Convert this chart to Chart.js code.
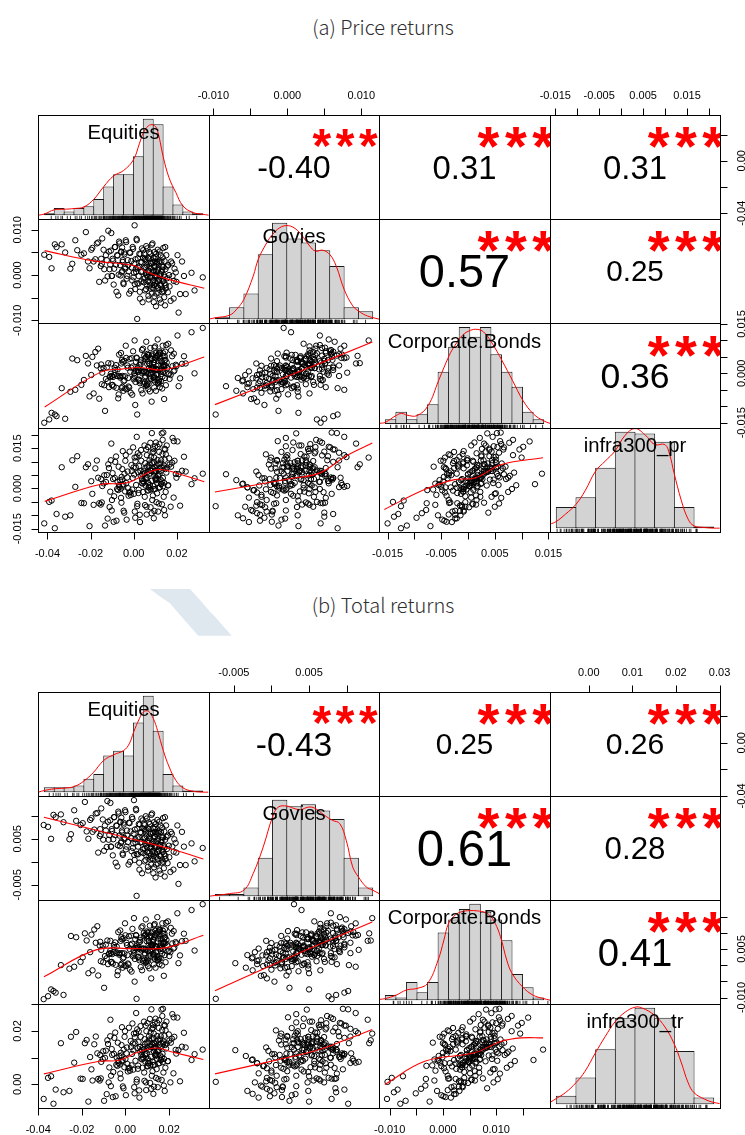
<!DOCTYPE html>
<html>
<head>
<meta charset="utf-8">
<title>Correlation charts</title>
<script src="https://cdn.jsdelivr.net/npm/chart.js@4.4.0/dist/chart.umd.min.js"></script>
<style>
  html, body { margin: 0; padding: 0; background: #fff; }
  body { position: relative; width: 745px; height: 1135px; overflow: hidden; }
  .title { position: absolute; left: 0; width: 766px; text-align: center; line-height: 24px;
           font: 300 20px "Noto Sans CJK KR", "Noto Sans", sans-serif; color: #2e2e2e; }
  .mark { position: absolute; left: 150px; top: 589px; width: 82px; height: 47px; background: #dfe7ef;
          clip-path: polygon(0px 0px, 40px 0px, 50px 11px, 60px 22.7px, 65px 27.7px, 81.7px 46.7px,
                             48.3px 46.7px, 30px 26px, 20px 14.3px, 11.7px 8.7px); }
  canvas { position: absolute; }
</style>
</head>
<body>
<div class="title" style="top:12px">(a) Price returns</div>
<div class="mark"></div>
<div class="title" style="top:590px">(b) Total returns</div>
<script>
// monthly returns, in basis points (1 bp = 0.0001)
const BP = 1e-4;

// ---- (a) price returns ----
const eqPr = [-415,-392,-366,-318,-285,-262,-231,-212,-192,-178,-165,-153,-148,-140,-133,-125,-118,-112,-106,-101,
  -98,-93,-88,-82,-77,-72,-66,-61,-57,-53,-51,-48,-44,-39,-35,-30,-26,-21,-16,-11,
  -7,-3,1,4,7,10,13,16,19,22,25,28,31,34,37,41,44,47,51,53,
  55,57,59,61,63,65,67,69,71,73,75,77,79,81,83,85,87,89,91,92,
  94,96,97,99,101,103,104,106,108,110,112,114,116,118,120,122,124,126,128,130,
  132,134,136,138,141,144,146,148,153,158,164,171,178,186,195,208,224,241,268,320,
  -381,-358,-334,-294,-271,-243,-222,-205,-197,-186,-171,-160,-151,-146,-137,-129,-121,-115,-109,-104,
  -102,-96,-91,-86,-80,-75,-70,-68,-63,-59,-56,-54,-51,-47,-43,-40,-37,-33,-28,-24,
  -19,-14,-9,-5,-1,2,5,8,11,14,17,20,23,26,29,32,35,38,40,43,
  46,49,50,52,54,56,58,60,62,64,66,68,70,72,74,76,78,80,82,84,
  86,88,90,91,93,94,95,96,98,99,100,102,103,105,107,109,111,113,115,117,
  119,121,123,125,127,129,131,133,135,137,139,140,142,143,145,147,149,151,155,160,
  166,173,180,185,189,198,203,215,233,282];
const govPr = [45,40,68,50,25,55,48,30,60,35,72,20,25,56,-12,33,98,13,54,-2,
  36,-21,62,23,44,-45,70,-1,51,9,33,-17,50,14,73,-2,22,-41,49,31,
  -12,58,5,110,-31,14,80,-97,37,-19,19,-37,46,7,28,-60,55,-16,36,-6,
  18,-31,35,0,59,-14,10,-54,37,20,-23,47,-6,25,-41,4,70,-14,28,-29,
  10,-47,37,-2,19,-69,47,-24,29,-14,11,-39,28,-8,52,-22,2,-61,30,12,
  -30,39,-14,18,-49,-4,62,-22,19,-38,0,-57,26,-13,6,-83,30,-42,5,-5,
  15,62,68,14,77,45,95,15,56,30,70,-15,36,81,13,44,-3,52,23,93,
  -2,32,14,62,-37,43,1,74,22,52,6,61,29,-20,46,17,77,-8,33,8,
  50,-35,17,62,-5,26,-20,35,7,77,-18,16,-2,47,-52,29,-14,59,8,38,
  -8,47,16,-34,33,4,64,-21,21,-4,38,-46,6,51,-16,16,-30,26,-3,67,
  -28,7,-11,38,-60,20,-22,51,0,30,-16,40,8,-41,25,-3,56,-28,14,-11,
  31,-54,-1,44,-23,8,-37,18,-10,60,-35,0,-18,31,-67,13,-29,44,-7,22,
  -25,30,-2,-52,14,-15,44,-42,-2,-34];
const corpPr = [-150,-140,-125,-138,45,40,-20,30,50,65,75,15,-33,16,-114,18,31,-11,-1,-36,
  -35,-40,17,25,-8,-76,-8,-9,30,-41,35,-53,38,-46,47,24,-14,-43,5,17,
  -65,67,-13,100,-96,35,48,-125,16,-20,-19,-24,33,40,6,-61,6,5,44,-28,
  48,-38,50,-33,59,37,-1,-32,16,29,-55,77,-3,43,-86,45,58,15,26,-12,
  -9,-15,41,48,14,-53,14,12,52,-21,56,-31,58,-26,67,45,6,-24,24,36,
  -46,84,4,52,-78,52,66,23,33,-3,-1,-5,52,60,26,-39,29,30,125,138,
  -120,-130,-45,-56,-50,-35,53,-70,-5,-61,24,-77,27,2,-36,-17,-24,-42,-9,30,
  -8,-11,-5,10,-44,12,-64,57,-13,62,-45,41,-8,-24,-21,-9,84,-48,17,-40,
  44,-59,46,21,-18,0,-8,-26,7,46,8,4,10,25,-30,27,-51,71,0,75,
  -32,54,6,-12,-8,3,96,-36,29,-28,55,-48,56,30,-9,10,2,-16,16,54,
  16,13,18,33,-21,34,-43,78,8,82,-26,61,12,-5,-2,10,103,-29,37,-21,
  62,-42,63,37,-2,16,9,-10,24,61,23,20,25,40,-14,41,-36,86,16,90,
  -17,70,22,6,9,22,115,-15,52,0];
const infraPr = [-130,-50,-148,-105,105,120,-55,90,-20,75,40,-60,-52,19,-138,50,90,-69,105,-43,
  57,-124,39,119,-2,-6,5,-1,-53,72,11,16,-90,103,20,41,1,-15,-14,87,
  -4,153,-20,115,-109,78,117,-66,131,-17,83,-98,65,143,21,18,28,22,-31,94,
  33,38,-68,124,41,62,21,4,4,105,13,170,-4,65,-92,94,133,-26,147,-3,
  98,-84,79,157,35,31,41,35,-18,106,46,50,-56,136,53,74,33,16,17,205,
  26,181,8,78,-80,107,145,-13,160,11,112,-68,96,176,54,53,66,63,16,55,
  -45,-95,79,-100,6,-54,79,-140,27,-61,104,-55,35,9,49,24,-112,76,-12,167,
  -82,35,-29,99,-120,25,81,13,31,-35,43,33,139,-83,55,-11,124,-116,63,-27,
  137,-24,65,39,78,52,-86,102,13,192,-57,60,-5,123,-125,48,103,35,53,-13,
  64,55,160,-62,75,10,145,-97,82,-8,154,-7,82,55,93,67,-70,118,28,206,
  -43,74,9,137,-111,60,115,47,65,-2,75,67,171,-51,86,21,155,-86,93,3,
  165,4,93,66,105,78,-59,128,39,208,-31,85,20,148,-100,72,127,59,78,12,
  89,81,188,-34,103,40,175,-64,118,38];

// ---- (b) total returns ----
const eqTr = [-375,-355,-330,-284,-250,-226,-196,-178,-156,-143,-129,-118,-113,-104,-98,-90,-83,-77,-70,-66,
  -63,-58,-53,-47,-42,-37,-31,-26,-22,-18,-16,-13,-9,-4,0,5,9,14,19,24,
  28,32,36,39,42,45,48,51,54,57,60,63,66,69,72,76,79,82,86,88,
  90,92,94,96,98,100,102,104,106,108,110,112,114,116,118,120,122,124,126,127,
  129,131,132,134,136,138,139,141,143,145,147,149,151,153,155,157,159,161,163,165,
  167,169,171,173,176,179,181,183,188,193,199,206,213,221,230,243,259,276,303,354,
  -341,-320,-296,-257,-235,-206,-186,-170,-162,-151,-136,-125,-116,-111,-102,-94,-86,-80,-74,-69,
  -67,-61,-56,-51,-45,-40,-35,-33,-28,-24,-21,-19,-16,-12,-8,-5,-2,2,7,11,
  16,21,26,30,34,37,40,43,46,49,52,55,58,61,64,67,70,73,75,78,
  81,84,85,87,89,91,93,95,97,99,101,103,105,107,109,111,113,115,117,119,
  121,123,125,126,128,129,130,131,133,134,135,137,138,140,142,144,146,148,150,152,
  154,156,158,160,162,164,166,168,170,172,174,175,177,178,180,182,184,186,190,195,
  201,208,215,220,224,233,238,250,268,317];
const govTr = [80,76,102,86,60,89,84,66,95,70,106,56,60,92,24,68,132,48,90,33,
  71,14,97,58,79,-10,105,34,86,44,68,18,85,49,108,33,57,-6,84,66,
  23,93,40,134,4,49,115,-74,72,16,54,-2,81,42,63,-25,90,19,71,29,
  53,4,70,35,94,21,45,-19,72,55,12,82,29,60,-6,39,105,21,63,6,
  45,-12,72,33,54,-34,82,11,64,21,46,-4,63,27,87,13,37,-26,65,47,
  5,74,21,53,-14,31,97,13,54,-3,35,-22,61,22,41,-48,65,-7,40,30,
  50,97,103,49,112,80,130,50,91,65,105,20,71,116,48,79,32,87,58,128,
  33,67,49,97,-2,78,36,109,57,87,41,96,64,15,81,52,112,27,68,43,
  85,0,52,97,30,61,15,70,42,112,17,51,33,82,-17,64,21,94,43,73,
  27,82,51,1,68,39,99,14,56,31,73,-11,41,86,19,51,5,61,32,102,
  7,42,24,73,-25,55,13,86,35,65,19,75,43,-6,60,32,91,7,49,24,
  66,-19,34,79,12,43,-2,53,25,95,0,35,17,66,-32,48,6,79,28,57,
  10,65,33,-17,49,20,79,-7,33,1];
const corpTr = [-105,-96,-80,-92,90,86,24,76,94,110,120,60,12,60,-70,63,76,34,44,9,
  10,5,62,70,37,-31,37,36,75,4,80,-8,83,-1,92,69,31,2,50,62,
  -20,112,32,145,-51,80,93,-104,61,25,26,21,78,85,51,-16,51,50,89,17,
  93,7,95,12,104,82,44,13,61,74,-10,122,42,88,-41,90,103,60,71,33,
  36,30,86,93,59,-8,59,57,97,24,101,14,103,19,112,90,51,21,69,81,
  -1,129,49,97,-33,97,111,68,78,42,44,40,97,105,71,6,74,75,170,188,
  -75,-85,0,-11,-5,10,98,-25,40,-16,69,-32,72,47,9,28,21,3,36,75,
  37,34,40,55,1,57,-19,102,32,107,0,86,37,21,24,36,129,-3,62,5,
  89,-14,91,66,27,45,37,19,52,91,53,49,55,70,15,72,-6,116,45,120,
  13,99,51,33,37,48,141,9,74,17,100,-3,101,75,36,55,47,29,61,99,
  61,58,63,78,24,79,2,123,53,127,19,106,57,40,43,55,148,16,82,24,
  107,3,108,82,43,61,54,35,69,106,68,65,70,85,31,86,9,131,61,135,
  28,115,67,51,54,67,160,30,97,45];
const infraTr = [-55,24,-73,-30,178,196,20,166,56,150,116,14,22,95,-62,126,165,7,180,32,
  132,-48,114,194,73,69,80,74,22,147,86,91,-15,178,95,116,76,60,61,162,
  71,228,55,190,-34,153,192,9,206,58,158,-23,140,218,96,93,103,97,44,169,
  108,113,7,199,116,137,96,79,79,180,88,245,71,140,-17,169,208,49,222,72,
  173,-9,154,232,110,106,116,110,57,181,121,125,19,211,128,149,108,91,92,280,
  101,256,83,153,-5,182,220,62,235,86,187,7,171,251,129,128,141,138,91,130,
  30,-20,154,-25,81,21,154,-65,102,14,179,20,110,84,124,99,-37,151,63,242,
  -7,110,46,174,-45,100,156,88,106,40,118,108,214,-8,130,64,199,-41,138,48,
  212,51,140,114,153,127,-11,177,88,267,18,135,70,198,-50,123,178,110,128,62,
  139,130,235,13,150,85,220,-22,157,67,229,68,157,130,168,142,5,193,103,281,
  32,149,84,212,-36,135,190,122,140,73,150,142,246,24,161,96,230,-11,168,78,
  240,79,168,141,180,153,16,203,114,283,44,160,95,223,-25,147,202,134,153,87,
  164,156,263,41,178,115,250,11,193,113];

const namesPr = ['Equities', 'Govies', 'Corporate.Bonds', 'infra300_pr'];
const namesTr = ['Equities', 'Govies', 'Corporate.Bonds', 'infra300_tr'];

// upper panels, order (1,2) (1,3) (1,4) (2,3) (2,4) (3,4)
const corrPr = ['-0.40', '0.31', '0.31', '0.57', '0.25', '0.36'];
const corrTr = ['-0.43', '0.25', '0.26', '0.61', '0.28', '0.41'];
const starsPr = ['***', '***', '***', '***', '***', '***'];
const starsTr = ['***', '***', '***', '***', '***', '***'];

// axis ranges per variable
const rangePr = [[-0.0444, 0.0349], [-0.0106, 0.0124], [-0.0166, 0.0153], [-0.0162, 0.0225]];
const rangeTr = [[-0.0401, 0.0383], [-0.0083, 0.0143], [-0.0120, 0.0201], [-0.0089, 0.0301]];

// outer axis ticks, labels ('' = tick only)
const ticksPr = [
  [-0.04, -0.02, 0, 0.02],
  [-0.01, -0.005, 0, 0.005, 0.01],
  [-0.015, -0.01, -0.005, 0, 0.005, 0.01, 0.015],
  [-0.015, -0.01, -0.005, 0, 0.005, 0.01, 0.015, 0.02]
];
const colLabelsPr = [
  ['-0.04', '-0.02', '0.00', '0.02'],
  ['-0.010', '', '0.000', '', '0.010'],
  ['-0.015', '', '-0.005', '', '0.005', '', '0.015'],
  ['-0.015', '', '-0.005', '', '0.005', '', '0.015', '']
];
const rowLabelsPr = [
  ['-0.04', '', '0.00', ''],
  ['-0.010', '', '0.000', '', '0.010'],
  ['-0.015', '', '', '0.000', '', '', '0.015'],
  ['-0.015', '', '', '0.000', '', '', '0.015', '']
];
const ticksTr = [
  [-0.04, -0.02, 0, 0.02],
  [-0.005, 0, 0.005, 0.01],
  [-0.01, -0.005, 0, 0.005, 0.01, 0.015],
  [0, 0.01, 0.02, 0.03]
];
const colLabelsTr = [
  ['-0.04', '-0.02', '0.00', '0.02'],
  ['-0.005', '', '0.005', ''],
  ['-0.010', '', '0.000', '', '0.010', ''],
  ['0.00', '0.01', '0.02', '0.03']
];
const rowLabelsTr = [
  ['-0.04', '', '0.00', ''],
  ['-0.005', '', '0.005', ''],
  ['-0.010', '', '', '0.005', '', ''],
  ['0.00', '', '0.02', '']
];

// histograms on the diagonal: first break, bin width, counts
const histStartPr = [-0.045, -0.010, -0.016, -0.015];
const histStepPr = [0.005, 0.002, 0.002, 0.005];
const histCountsPr = [
  [1, 4, 2, 4, 5, 9, 16, 23, 23, 33, 54, 51, 16, 6, 2, 1],
  [1, 6, 13, 33, 49, 41, 39, 35, 27, 6, 4],
  [2, 5, 2, 4, 8, 21, 31, 39, 35, 39, 28, 21, 15, 5, 2],
  [13, 19, 37, 59, 58, 53, 13, 1]
];
const histStartTr = [-0.040, -0.008, -0.012, -0.010];
const histStepTr = [0.005, 0.002, 0.002, 0.005];
const histCountsTr = [
  [3, 3, 3, 4, 8, 11, 22, 25, 22, 42, 58, 37, 11, 4, 1, 1],
  [1, 1, 4, 18, 45, 42, 43, 40, 36, 18, 4],
  [2, 1, 7, 3, 7, 26, 31, 35, 37, 34, 31, 23, 10, 5, 1],
  [5, 16, 33, 52, 58, 52, 32, 4]
];

// density curves (same units as the counts)
const densXPr = [
  [-0.048,-0.045,-0.040,-0.035,-0.030,-0.025,-0.020,-0.015,-0.010,-0.005,0.000,0.003,0.005,0.0075,0.010,0.012,0.015,0.018,0.0215,0.025,0.030,0.035,0.038],
  [-0.0109,-0.010,-0.008,-0.007,-0.006,-0.0047,-0.004,-0.0028,-0.002,-0.001,0.0,0.001,0.002,0.0032,0.004,0.005,0.006,0.0069,0.008,0.0092,0.010,0.011,0.012,0.0129],
  [-0.0171,-0.016,-0.014,-0.0129,-0.0119,-0.010,-0.0079,-0.0059,-0.0039,-0.0028,-0.0014,0.0001,0.0014,0.0026,0.0041,0.0061,0.0081,0.0101,0.0121,0.014,0.0152],
  [-0.0166,-0.015,-0.0127,-0.010,-0.0077,-0.005,-0.0026,-0.0001,0.0025,0.005,0.0075,0.010,0.0126,0.0138,0.0149,0.0168,0.0185,0.020,0.0227,0.025,0.0265]
];
const densYPr = [
  [0,0.6,3,3.3,3.7,4.6,8.9,16,22,25,31,40,46,50,50.6,48,33,21,12.6,5.2,1.5,0.5,0],
  [0,0.7,2,5.1,10.1,21.9,30.4,38.9,43.1,46.5,47.6,46.5,43.1,37.2,34.6,35.1,32.9,27,15.2,6.8,4.2,2,0.8,0],
  [0.3,0.7,3.4,4.3,3.6,3.4,7.4,17.5,27.5,31.6,35.6,37.6,38,37,32.9,25.5,17.5,9.4,4,1.3,0.3],
  [2.4,4.1,8.5,14.6,22.8,35,41,47.2,56.9,61,57.3,51.2,51.2,45.1,34,16.7,5.5,1.4,0.4,0,0]
];
const densXTr = [
  [-0.043,-0.040,-0.035,-0.030,-0.0249,-0.0201,-0.0151,-0.010,-0.005,0.0001,0.0029,0.0051,0.008,0.010,0.0125,0.0151,0.0172,0.0201,0.0231,0.0265,0.030,0.0349,0.040,0.0428],
  [-0.0088,-0.006,-0.004,-0.0027,-0.0013,0.0,0.0008,0.002,0.0029,0.0039,0.005,0.0059,0.0073,0.0084,0.0094,0.0103,0.0112,0.012,0.0131,0.014,0.0149],
  [-0.0131,-0.012,-0.010,-0.008,-0.006,-0.004,-0.002,-0.0009,0.0,0.0013,0.0025,0.004,0.0054,0.0069,0.008,0.0091,0.010,0.011,0.012,0.014,0.016,0.018,0.0192],
  [-0.0116,-0.010,-0.0077,-0.005,-0.0027,-0.0001,0.0024,0.0049,0.0075,0.010,0.0117,0.015,0.0176,0.0199,0.0218,0.0235,0.025,0.0277,0.030,0.0315]
];
const densYTr = [
  [0,1,2,2.4,3.4,6.6,12,19.1,22.5,25.1,29.1,36.1,44.2,48.2,48.8,44.2,37.1,25.1,15.1,7,2.6,0.6,0,0],
  [0,1.2,2.8,10.6,23,37,41.6,42.1,41.1,40.4,41.6,41.1,37.7,35.4,33.9,26.1,13.7,9,4.3,2.8,1.2],
  [0.3,0.6,1.9,3.9,4.5,6.4,15.4,23.1,29.6,32.8,34,34.4,34.3,33.7,32.1,28.3,23.1,15.4,10.3,5.1,1.9,0.6,0],
  [1,3.4,6.9,12.9,19.8,30.7,40.6,49.5,55.4,58.4,58,53.5,46.5,36.6,24.8,12.9,6.9,3,1,0.4]
];

// smoothed (lowess) lines of the lower panels, key = row + col
const smoothPr = {
  '10': [[-0.0413, -0.0194, 0.0, 0.0063, 0.0156, 0.0327], [0.0054, 0.0032, 0.0021, 0.0006, -0.0009, -0.0029]],
  '20': [[-0.0413, -0.0156, -0.0055, 0.0031, 0.014, 0.0327], [-0.0102, 0.0003, 0.0013, 0.0018, 0.0011, 0.005]],
  '21': [[-0.0098, 0.0008, 0.0115], [-0.0095, -0.0002, 0.0095]],
  '30': [[-0.0413, -0.0156, -0.0031, 0.0109, 0.0218, 0.0327], [-0.0048, 0.0015, 0.0021, 0.007, 0.0052, 0.0025]],
  '31': [[-0.0098, 0.0003, 0.0044, 0.0079, 0.0115], [-0.0013, 0.0036, 0.0058, 0.012, 0.0169]],
  '32': [[-0.0156, -0.0081, -0.0025, 0.0013, 0.0063, 0.014], [-0.0078, -0.0004, 0.0033, 0.0039, 0.0089, 0.0114]]
};
const smoothTr = {
  '10': [[-0.0374, 0.0034, 0.0221, 0.0357], [0.0097, 0.0049, 0.0026, 0.0006]],
  '20': [[-0.0374, -0.0135, 0.0034, 0.0188, 0.0357], [-0.0036, 0.0047, 0.0051, 0.0054, 0.0092]],
  '21': [[-0.0075, 0.0029, 0.0134], [-0.0079, 0.0029, 0.0133]],
  '30': [[-0.0374, -0.012, -0.0028, 0.005, 0.0142, 0.0218, 0.0357], [0.0039, 0.0086, 0.009, 0.0118, 0.0136, 0.012, 0.0093]],
  '31': [[-0.0075, 0.0029, 0.0064, 0.0099, 0.0134], [0.0039, 0.0105, 0.013, 0.0167, 0.0205]],
  '32': [[-0.0109, -0.0034, 0.0059, 0.011, 0.0147, 0.0188], [-0.0001, 0.0086, 0.0118, 0.0161, 0.0174, 0.0174]]
};

// ---- layout ----
const COLS = [38, 209, 379, 550, 720];
const ROWS_PR = [115, 219, 323, 428, 532];
const ROWS_TR = [692, 796, 900, 1004, 1108];
const CELL_W = 170.5;
const FONT = '"Liberation Sans", Arial, Helvetica, sans-serif';
const TICK = 6.5;

function setFont(ctx, px, weight) { ctx.font = (weight || '') + ' ' + px + 'px ' + FONT; }
function width1(ctx, txt) { setFont(ctx, 100); return ctx.measureText(txt).width / 100; }
function fillCentered(ctx, txt, cx, cy) {
  const m = ctx.measureText(txt);
  ctx.fillText(txt, cx, cy + (m.actualBoundingBoxAscent - m.actualBoundingBoxDescent) / 2);
}
const snap = v => Math.round(v) + 0.5;

function hAxis(ctx, scale, spec, y0, dir, off) {
  ctx.beginPath();
  spec.ticks.forEach(v => {
    const x = snap(scale.getPixelForValue(v));
    ctx.moveTo(x, y0); ctx.lineTo(x, y0 + dir * TICK);
  });
  ctx.stroke();
  spec.ticks.forEach((v, i) => {
    if (spec.labels[i]) fillCentered(ctx, spec.labels[i], scale.getPixelForValue(v), y0 + dir * off);
  });
}
function vAxis(ctx, scale, spec, x0, dir, off) {
  ctx.beginPath();
  spec.ticks.forEach(v => {
    const y = snap(scale.getPixelForValue(v));
    ctx.moveTo(x0, y); ctx.lineTo(x0 + dir * TICK, y);
  });
  ctx.stroke();
  spec.ticks.forEach((v, i) => {
    if (!spec.labels[i]) return;
    ctx.save();
    ctx.translate(x0 + dir * off, scale.getPixelForValue(v));
    ctx.rotate(-Math.PI / 2);
    fillCentered(ctx, spec.labels[i], 0, 0);
    ctx.restore();
  });
}

const rPanel = {
  id: 'rPanel',
  afterDatasetsDraw(chart) {
    const s = chart.canvas._spec;
    const ctx = chart.ctx, a = chart.chartArea;
    const w = a.right - a.left, h = a.bottom - a.top;
    ctx.save();
    ctx.beginPath(); ctx.rect(a.left, a.top, w, h); ctx.clip();
    ctx.textAlign = 'center'; ctx.textBaseline = 'alphabetic';
    if (s.rug) {
      const xs = chart.scales.x;
      ctx.strokeStyle = '#000'; ctx.lineWidth = 0.8;
      ctx.beginPath();
      s.rug.forEach(v => {
        const x = xs.getPixelForValue(v);
        ctx.moveTo(x, a.bottom); ctx.lineTo(x, a.bottom - 3.2);
      });
      ctx.stroke();
    }
    if (s.label) {
      setFont(ctx, 0.9 * CELL_W / width1(ctx, s.widest));
      ctx.fillStyle = '#000';
      const cap = ctx.measureText('E').actualBoundingBoxAscent;
      ctx.fillText(s.label, a.left + w / 2, a.top + h / 6 + cap / 2);
    }
    if (s.corr) {
      const base = 0.8 * CELL_W / width1(ctx, s.corr);
      const r = Math.abs(parseFloat(s.corr));
      setFont(ctx, base * (r + 0.3) / 1.3);
      ctx.fillStyle = '#000';
      fillCentered(ctx, s.corr, a.left + w / 2, a.top + h / 2);
      // significance stars: spacing of the full-size font, heavier and slightly smaller glyphs
      setFont(ctx, base);
      const adv = ctx.measureText('*').width;
      setFont(ctx, base * 0.8, 'bold');
      ctx.fillStyle = '#ff0000';
      const n = s.stars.length;
      for (let k = 0; k < n; k++) {
        fillCentered(ctx, s.stars[k], a.left + 0.8 * w + (k - (n - 1) / 2) * adv, a.top + 0.22 * h);
      }
    }
    ctx.restore();
  },
  afterDraw(chart) {
    const s = chart.canvas._spec;
    const ctx = chart.ctx, a = chart.chartArea;
    ctx.save();
    ctx.strokeStyle = '#000'; ctx.lineWidth = 1;
    ctx.strokeRect(a.left + 0.5, a.top + 0.5, a.right - a.left, a.bottom - a.top);
    setFont(ctx, 11);
    ctx.fillStyle = '#000'; ctx.textAlign = 'center'; ctx.textBaseline = 'alphabetic';
    const ax = s.axes;
    if (ax.top) hAxis(ctx, chart.scales.x, ax.top, a.top, -1, 20);
    if (ax.bottom) hAxis(ctx, chart.scales.x, ax.bottom, a.bottom + 1, 1, 19.5);
    if (ax.left) vAxis(ctx, chart.scales.y, ax.left, a.left, -1, 21);
    if (ax.right) vAxis(ctx, chart.scales.y, ax.right, a.right + 1, 1, 20);
    ctx.restore();
  }
};
Chart.register(rPanel);

const noTicks = sc => { sc.ticks = []; };

function buildMatrix(m) {
  const pairIdx = [[-1, 0, 1, 2], [-1, -1, 3, 4], [-1, -1, -1, 5]];
  const probe = document.createElement('canvas').getContext('2d');
  const widest = m.names.reduce((b, n) => width1(probe, n) > width1(probe, b) ? n : b);
  for (let r = 0; r < 4; r++) {
    for (let c = 0; c < 4; c++) {
      const left = COLS[c], top = m.rows[r];
      const w = COLS[c + 1] - left, h = m.rows[r + 1] - top;
      const axes = {};
      if (r === 0 && c % 2 === 1) axes.top = { ticks: m.ticks[c], labels: m.colLabels[c] };
      if (r === 3 && c % 2 === 0) axes.bottom = { ticks: m.ticks[c], labels: m.colLabels[c] };
      if (c === 0 && r % 2 === 1) axes.left = { ticks: m.ticks[r], labels: m.rowLabels[r] };
      if (c === 3 && r % 2 === 0) axes.right = { ticks: m.ticks[r], labels: m.rowLabels[r] };
      const any = Object.keys(axes).length ? 24 : 0;
      const pad = {
        left: axes.left ? 40 : any, right: (axes.right ? 40 : any) + 1,
        top: axes.top ? 36 : any, bottom: (axes.bottom ? 36 : any) + 1
      };
      const cv = document.createElement('canvas');
      cv.width = pad.left + w + pad.right;
      cv.height = pad.top + h + pad.bottom;
      cv.style.left = (left - pad.left) + 'px';
      cv.style.top = (top - pad.top) + 'px';
      document.body.appendChild(cv);

      const spec = { axes };
      let type = 'scatter', datasets = [], xr = m.ranges[c], yr = m.ranges[r];
      if (r === c) {
        const start = m.histStart[c], step = m.histStep[c], counts = m.histCounts[c];
        const span = step * counts.length, peak = Math.max(...counts);
        xr = [start - 0.04 * span, start + 1.04 * span];
        yr = [-0.04 * peak, 1.04 * peak];
        // widen each bar by one pixel so neighbouring borders fall on the same line
        const barPx = w / (1.08 * counts.length);
        type = 'bar';
        datasets = [
          { type: 'line', data: m.densX[c].map((x, k) => ({ x, y: m.densY[c][k] })),
            borderColor: '#ff0000', borderWidth: 1, pointRadius: 0, tension: 0.4, order: 0, clip: 0 },
          { type: 'bar', data: counts.map((n, k) => ({ x: start + (k + 0.5) * step, y: n })),
            backgroundColor: '#d3d3d3', borderColor: '#1a1a1a', borderWidth: 1, borderSkipped: false,
            barPercentage: (barPx + 1) / barPx, categoryPercentage: 1, inflateAmount: 0, order: 1, clip: 0 }
        ];
        spec.rug = m.series[c].map(v => v * BP);
        spec.label = m.names[c];
        spec.widest = widest;
      } else if (r < c) {
        const k = pairIdx[r][c];
        spec.corr = m.corr[k];
        spec.stars = m.stars[k];
      } else {
        const sm = m.smooth['' + r + c];
        datasets = [
          { type: 'line', data: sm[0].map((x, k) => ({ x, y: sm[1][k] })),
            borderColor: '#ff0000', borderWidth: 1.1, pointRadius: 0, tension: 0.4, order: 0, clip: 0 },
          { type: 'scatter', data: m.series[c].map((v, k) => ({ x: v * BP, y: m.series[r][k] * BP })),
            pointStyle: 'circle', pointRadius: 2.7, borderColor: '#000', borderWidth: 1,
            backgroundColor: 'rgba(0,0,0,0)', order: 1, clip: 0 }
        ];
      }
      cv._spec = spec;
      new Chart(cv, {
        type,
        data: { datasets },
        options: {
          responsive: false, maintainAspectRatio: false, animation: false, devicePixelRatio: 1,
          events: [],
          layout: { padding: pad, autoPadding: false },
          plugins: { legend: { display: false }, tooltip: { enabled: false }, title: { display: false } },
          scales: {
            x: { type: 'linear', display: false, offset: false, min: xr[0], max: xr[1], afterBuildTicks: noTicks },
            y: { type: 'linear', display: false, offset: false, min: yr[0], max: yr[1], afterBuildTicks: noTicks }
          }
        }
      });
    }
  }
}

buildMatrix({
  rows: ROWS_PR, names: namesPr, series: [eqPr, govPr, corpPr, infraPr],
  ranges: rangePr, ticks: ticksPr, colLabels: colLabelsPr, rowLabels: rowLabelsPr,
  histStart: histStartPr, histStep: histStepPr, histCounts: histCountsPr,
  densX: densXPr, densY: densYPr, smooth: smoothPr, corr: corrPr, stars: starsPr
});
buildMatrix({
  rows: ROWS_TR, names: namesTr, series: [eqTr, govTr, corpTr, infraTr],
  ranges: rangeTr, ticks: ticksTr, colLabels: colLabelsTr, rowLabels: rowLabelsTr,
  histStart: histStartTr, histStep: histStepTr, histCounts: histCountsTr,
  densX: densXTr, densY: densYTr, smooth: smoothTr, corr: corrTr, stars: starsTr
});
</script>
</body>
</html>
